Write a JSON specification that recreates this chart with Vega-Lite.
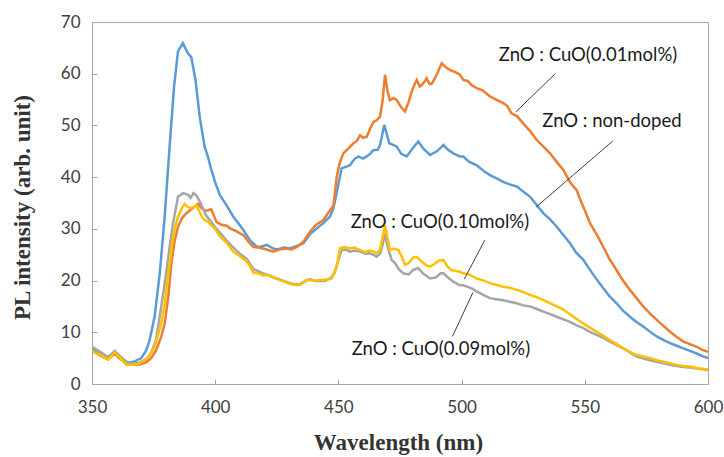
{
  "$schema": "https://vega.github.io/schema/vega-lite/v6.json",
  "width": 616,
  "height": 362,
  "autosize": "none",
  "padding": {"left": 92, "top": 22, "right": 16, "bottom": 73},
  "background": "white",
  "config": {
    "view": {"stroke": "#a6a6a6", "strokeWidth": 1},
    "axis": {
      "grid": false,
      "labelFlush": false,
      "domainColor": "#a6a6a6",
      "tickColor": "#a6a6a6",
      "labelFont": "Lato",
      "labelFontSize": 17,
      "labelColor": "#404040",
      "titleFont": "Liberation Serif",
      "titleFontWeight": "bold",
      "titleFontSize": 23,
      "titleColor": "#333333"
    }
  },
  "datasets": {
    "curves": [
      {"s":"non-doped","wl":350,"v":6.8},{"s":"non-doped","wl":353,"v":6.0},{"s":"non-doped","wl":356.5,"v":5.0},{"s":"non-doped","wl":359.2,"v":6.1},{"s":"non-doped","wl":361,"v":5.3},{"s":"non-doped","wl":364.6,"v":4.1},{"s":"non-doped","wl":367,"v":4.3},{"s":"non-doped","wl":370,"v":5.0},{"s":"non-doped","wl":372,"v":6.5},{"s":"non-doped","wl":373.4,"v":8.5},{"s":"non-doped","wl":375.4,"v":13.0},{"s":"non-doped","wl":377.5,"v":21.4},{"s":"non-doped","wl":379.5,"v":32.4},{"s":"non-doped","wl":381.5,"v":45.9},{"s":"non-doped","wl":383.3,"v":57.5},{"s":"non-doped","wl":384.9,"v":64.3},{"s":"non-doped","wl":386.9,"v":65.9},{"s":"non-doped","wl":388,"v":64.8},{"s":"non-doped","wl":389,"v":63.9},{"s":"non-doped","wl":390.3,"v":63.2},{"s":"non-doped","wl":392,"v":58.8},{"s":"non-doped","wl":393.7,"v":51.7},{"s":"non-doped","wl":395.7,"v":45.9},{"s":"non-doped","wl":397,"v":44.0},{"s":"non-doped","wl":398.4,"v":41.5},{"s":"non-doped","wl":400,"v":39.0},{"s":"non-doped","wl":401.9,"v":36.5},{"s":"non-doped","wl":404.7,"v":34.5},{"s":"non-doped","wl":407.3,"v":32.4},{"s":"non-doped","wl":408.7,"v":31.5},{"s":"non-doped","wl":411.4,"v":29.8},{"s":"non-doped","wl":414.1,"v":27.8},{"s":"non-doped","wl":416.8,"v":26.6},{"s":"non-doped","wl":418.2,"v":26.5},{"s":"non-doped","wl":420.9,"v":26.9},{"s":"non-doped","wl":423.6,"v":26.2},{"s":"non-doped","wl":425,"v":26.0},{"s":"non-doped","wl":428,"v":26.4},{"s":"non-doped","wl":430.4,"v":26.2},{"s":"non-doped","wl":433.1,"v":26.7},{"s":"non-doped","wl":435.8,"v":27.2},{"s":"non-doped","wl":438.5,"v":29.0},{"s":"non-doped","wl":441,"v":30.0},{"s":"non-doped","wl":443.9,"v":31.1},{"s":"non-doped","wl":446.6,"v":32.4},{"s":"non-doped","wl":448,"v":34.0},{"s":"non-doped","wl":449.3,"v":37.0},{"s":"non-doped","wl":451.3,"v":41.7},{"s":"non-doped","wl":453,"v":42.0},{"s":"non-doped","wl":454.7,"v":42.3},{"s":"non-doped","wl":456.5,"v":43.5},{"s":"non-doped","wl":458.1,"v":44.0},{"s":"non-doped","wl":460,"v":43.6},{"s":"non-doped","wl":461.5,"v":44.0},{"s":"non-doped","wl":463,"v":44.6},{"s":"non-doped","wl":464.2,"v":45.2},{"s":"non-doped","wl":466,"v":45.3},{"s":"non-doped","wl":466.9,"v":46.2},{"s":"non-doped","wl":468.6,"v":50.1},{"s":"non-doped","wl":469.8,"v":48.0},{"s":"non-doped","wl":470.7,"v":46.5},{"s":"non-doped","wl":472,"v":46.3},{"s":"non-doped","wl":473.7,"v":45.9},{"s":"non-doped","wl":475.5,"v":44.5},{"s":"non-doped","wl":477.7,"v":44.0},{"s":"non-doped","wl":480,"v":45.5},{"s":"non-doped","wl":482.4,"v":46.9},{"s":"non-doped","wl":484.5,"v":45.5},{"s":"non-doped","wl":487.2,"v":44.3},{"s":"non-doped","wl":490,"v":45.0},{"s":"non-doped","wl":492.6,"v":46.2},{"s":"non-doped","wl":494.5,"v":45.3},{"s":"non-doped","wl":496.6,"v":44.6},{"s":"non-doped","wl":499.3,"v":44.0},{"s":"non-doped","wl":500.7,"v":44.0},{"s":"non-doped","wl":503,"v":43.0},{"s":"non-doped","wl":506.1,"v":42.3},{"s":"non-doped","wl":509,"v":41.2},{"s":"non-doped","wl":511.5,"v":40.4},{"s":"non-doped","wl":514,"v":39.8},{"s":"non-doped","wl":516.9,"v":39.1},{"s":"non-doped","wl":519.5,"v":38.6},{"s":"non-doped","wl":522.4,"v":38.2},{"s":"non-doped","wl":525,"v":37.2},{"s":"non-doped","wl":527.8,"v":36.2},{"s":"non-doped","wl":530.5,"v":34.6},{"s":"non-doped","wl":533.2,"v":33.0},{"s":"non-doped","wl":536,"v":31.8},{"s":"non-doped","wl":538.6,"v":30.4},{"s":"non-doped","wl":541.3,"v":28.8},{"s":"non-doped","wl":544,"v":27.2},{"s":"non-doped","wl":546.5,"v":25.4},{"s":"non-doped","wl":549.4,"v":24.0},{"s":"non-doped","wl":551.5,"v":22.5},{"s":"non-doped","wl":553.5,"v":21.1},{"s":"non-doped","wl":557.5,"v":18.5},{"s":"non-doped","wl":560,"v":17.0},{"s":"non-doped","wl":562.9,"v":15.6},{"s":"non-doped","wl":565.5,"v":14.2},{"s":"non-doped","wl":568.3,"v":13.0},{"s":"non-doped","wl":571,"v":12.0},{"s":"non-doped","wl":573.7,"v":11.1},{"s":"non-doped","wl":576.5,"v":10.1},{"s":"non-doped","wl":579.2,"v":9.2},{"s":"non-doped","wl":582,"v":8.5},{"s":"non-doped","wl":584.6,"v":7.9},{"s":"non-doped","wl":587.3,"v":7.4},{"s":"non-doped","wl":590,"v":6.9},{"s":"non-doped","wl":592.7,"v":6.4},{"s":"non-doped","wl":595.4,"v":5.9},{"s":"non-doped","wl":597.7,"v":5.4},{"s":"non-doped","wl":600,"v":5.0},

      {"s":"0.01","wl":350,"v":6.4},{"s":"0.01","wl":353,"v":5.6},{"s":"0.01","wl":356.5,"v":4.8},{"s":"0.01","wl":359.2,"v":5.9},{"s":"0.01","wl":361,"v":5.0},{"s":"0.01","wl":364.6,"v":3.8},{"s":"0.01","wl":368.7,"v":3.7},{"s":"0.01","wl":372,"v":4.2},{"s":"0.01","wl":374,"v":5.0},{"s":"0.01","wl":376,"v":6.5},{"s":"0.01","wl":378,"v":9.0},{"s":"0.01","wl":379.5,"v":11.7},{"s":"0.01","wl":381,"v":17.0},{"s":"0.01","wl":382.2,"v":23.3},{"s":"0.01","wl":383.5,"v":27.5},{"s":"0.01","wl":384.9,"v":30.4},{"s":"0.01","wl":386.5,"v":32.0},{"s":"0.01","wl":387.6,"v":32.7},{"s":"0.01","wl":389.5,"v":33.5},{"s":"0.01","wl":391.7,"v":34.3},{"s":"0.01","wl":393,"v":34.8},{"s":"0.01","wl":394.4,"v":34.0},{"s":"0.01","wl":396,"v":33.5},{"s":"0.01","wl":397.1,"v":33.6},{"s":"0.01","wl":398.4,"v":33.8},{"s":"0.01","wl":399.5,"v":32.5},{"s":"0.01","wl":400.6,"v":31.3},{"s":"0.01","wl":402.5,"v":30.8},{"s":"0.01","wl":404.7,"v":30.6},{"s":"0.01","wl":406,"v":30.1},{"s":"0.01","wl":408.7,"v":29.5},{"s":"0.01","wl":410.1,"v":29.1},{"s":"0.01","wl":411.4,"v":28.8},{"s":"0.01","wl":413.5,"v":27.5},{"s":"0.01","wl":415.5,"v":26.5},{"s":"0.01","wl":417.5,"v":26.4},{"s":"0.01","wl":419.5,"v":26.2},{"s":"0.01","wl":421.5,"v":25.9},{"s":"0.01","wl":423.6,"v":25.6},{"s":"0.01","wl":426,"v":26.0},{"s":"0.01","wl":429,"v":26.2},{"s":"0.01","wl":431,"v":26.0},{"s":"0.01","wl":433.1,"v":26.5},{"s":"0.01","wl":435.8,"v":27.5},{"s":"0.01","wl":438.5,"v":29.5},{"s":"0.01","wl":441,"v":30.8},{"s":"0.01","wl":443.9,"v":31.7},{"s":"0.01","wl":446.6,"v":33.6},{"s":"0.01","wl":448,"v":34.5},{"s":"0.01","wl":449.3,"v":40.0},{"s":"0.01","wl":450.5,"v":42.7},{"s":"0.01","wl":452,"v":44.6},{"s":"0.01","wl":454,"v":45.5},{"s":"0.01","wl":456,"v":46.5},{"s":"0.01","wl":457.5,"v":47.0},{"s":"0.01","wl":458.8,"v":48.1},{"s":"0.01","wl":460,"v":47.6},{"s":"0.01","wl":461.5,"v":47.8},{"s":"0.01","wl":463,"v":49.5},{"s":"0.01","wl":464.2,"v":50.7},{"s":"0.01","wl":465.5,"v":51.0},{"s":"0.01","wl":466.9,"v":51.7},{"s":"0.01","wl":468,"v":55.0},{"s":"0.01","wl":468.9,"v":59.8},{"s":"0.01","wl":470,"v":56.5},{"s":"0.01","wl":470.9,"v":54.9},{"s":"0.01","wl":472.5,"v":55.3},{"s":"0.01","wl":473.7,"v":54.9},{"s":"0.01","wl":475.5,"v":53.5},{"s":"0.01","wl":477,"v":52.7},{"s":"0.01","wl":478.5,"v":54.5},{"s":"0.01","wl":479.7,"v":56.5},{"s":"0.01","wl":481,"v":58.0},{"s":"0.01","wl":481.8,"v":58.8},{"s":"0.01","wl":483,"v":57.5},{"s":"0.01","wl":483.8,"v":57.8},{"s":"0.01","wl":485,"v":58.5},{"s":"0.01","wl":485.8,"v":59.1},{"s":"0.01","wl":487,"v":58.0},{"s":"0.01","wl":487.9,"v":58.1},{"s":"0.01","wl":489,"v":59.0},{"s":"0.01","wl":489.9,"v":59.8},{"s":"0.01","wl":491,"v":61.0},{"s":"0.01","wl":491.9,"v":62.0},{"s":"0.01","wl":493.5,"v":61.3},{"s":"0.01","wl":495.3,"v":60.7},{"s":"0.01","wl":497.5,"v":60.3},{"s":"0.01","wl":499.3,"v":59.8},{"s":"0.01","wl":500.7,"v":58.8},{"s":"0.01","wl":502.5,"v":58.6},{"s":"0.01","wl":504,"v":57.8},{"s":"0.01","wl":506.1,"v":57.2},{"s":"0.01","wl":508.5,"v":56.8},{"s":"0.01","wl":511.5,"v":55.6},{"s":"0.01","wl":514,"v":55.0},{"s":"0.01","wl":516.9,"v":54.3},{"s":"0.01","wl":518.5,"v":53.8},{"s":"0.01","wl":520.3,"v":52.3},{"s":"0.01","wl":522.5,"v":51.8},{"s":"0.01","wl":525,"v":50.4},{"s":"0.01","wl":528,"v":48.8},{"s":"0.01","wl":530.5,"v":47.2},{"s":"0.01","wl":533,"v":46.0},{"s":"0.01","wl":535.9,"v":44.6},{"s":"0.01","wl":538.5,"v":43.0},{"s":"0.01","wl":541.3,"v":41.4},{"s":"0.01","wl":544,"v":39.0},{"s":"0.01","wl":546.7,"v":37.5},{"s":"0.01","wl":548,"v":35.8},{"s":"0.01","wl":550,"v":33.6},{"s":"0.01","wl":552.1,"v":31.1},{"s":"0.01","wl":555,"v":28.8},{"s":"0.01","wl":557.5,"v":26.5},{"s":"0.01","wl":560,"v":24.2},{"s":"0.01","wl":562.9,"v":22.0},{"s":"0.01","wl":565.5,"v":20.0},{"s":"0.01","wl":568.3,"v":18.2},{"s":"0.01","wl":571,"v":16.6},{"s":"0.01","wl":573.7,"v":15.0},{"s":"0.01","wl":576.5,"v":13.6},{"s":"0.01","wl":579.2,"v":12.4},{"s":"0.01","wl":582,"v":11.2},{"s":"0.01","wl":584.6,"v":10.1},{"s":"0.01","wl":587.3,"v":9.1},{"s":"0.01","wl":590,"v":8.2},{"s":"0.01","wl":592.7,"v":7.7},{"s":"0.01","wl":595.4,"v":7.2},{"s":"0.01","wl":597.7,"v":6.6},{"s":"0.01","wl":600,"v":6.2},

      {"s":"0.09","wl":350,"v":7.2},{"s":"0.09","wl":353,"v":6.3},{"s":"0.09","wl":356.5,"v":5.2},{"s":"0.09","wl":359.2,"v":6.4},{"s":"0.09","wl":361,"v":5.6},{"s":"0.09","wl":364.6,"v":4.0},{"s":"0.09","wl":368.7,"v":4.0},{"s":"0.09","wl":372,"v":4.8},{"s":"0.09","wl":374,"v":6.0},{"s":"0.09","wl":376,"v":8.5},{"s":"0.09","wl":378.1,"v":15.0},{"s":"0.09","wl":380,"v":21.0},{"s":"0.09","wl":381.5,"v":26.5},{"s":"0.09","wl":382.9,"v":31.1},{"s":"0.09","wl":384.9,"v":36.2},{"s":"0.09","wl":387,"v":36.9},{"s":"0.09","wl":389,"v":36.6},{"s":"0.09","wl":390,"v":36.0},{"s":"0.09","wl":391.2,"v":36.9},{"s":"0.09","wl":392.3,"v":36.5},{"s":"0.09","wl":393.4,"v":35.6},{"s":"0.09","wl":395,"v":34.0},{"s":"0.09","wl":396.1,"v":32.7},{"s":"0.09","wl":398,"v":31.6},{"s":"0.09","wl":399.8,"v":30.4},{"s":"0.09","wl":401.9,"v":29.3},{"s":"0.09","wl":404.7,"v":27.7},{"s":"0.09","wl":406.5,"v":26.8},{"s":"0.09","wl":408.7,"v":25.8},{"s":"0.09","wl":410.5,"v":25.0},{"s":"0.09","wl":412.8,"v":24.2},{"s":"0.09","wl":415.5,"v":22.2},{"s":"0.09","wl":417.5,"v":21.8},{"s":"0.09","wl":419.5,"v":21.4},{"s":"0.09","wl":422,"v":21.0},{"s":"0.09","wl":425,"v":20.4},{"s":"0.09","wl":428,"v":19.9},{"s":"0.09","wl":430.4,"v":19.5},{"s":"0.09","wl":432.5,"v":19.3},{"s":"0.09","wl":434.4,"v":19.3},{"s":"0.09","wl":436.5,"v":19.9},{"s":"0.09","wl":438.5,"v":20.3},{"s":"0.09","wl":440.5,"v":19.9},{"s":"0.09","wl":442.5,"v":19.9},{"s":"0.09","wl":444.5,"v":19.9},{"s":"0.09","wl":446.6,"v":20.4},{"s":"0.09","wl":448.5,"v":21.5},{"s":"0.09","wl":450,"v":24.0},{"s":"0.09","wl":451.3,"v":25.9},{"s":"0.09","wl":453,"v":26.0},{"s":"0.09","wl":454.7,"v":25.6},{"s":"0.09","wl":456.5,"v":25.8},{"s":"0.09","wl":458.8,"v":25.6},{"s":"0.09","wl":461,"v":25.2},{"s":"0.09","wl":462.5,"v":25.3},{"s":"0.09","wl":464.2,"v":25.0},{"s":"0.09","wl":465.5,"v":24.6},{"s":"0.09","wl":466.9,"v":25.2},{"s":"0.09","wl":468,"v":27.0},{"s":"0.09","wl":468.9,"v":29.1},{"s":"0.09","wl":470,"v":26.5},{"s":"0.09","wl":471.6,"v":24.0},{"s":"0.09","wl":473,"v":23.4},{"s":"0.09","wl":474.5,"v":22.2},{"s":"0.09","wl":476.3,"v":21.4},{"s":"0.09","wl":478.5,"v":21.2},{"s":"0.09","wl":480.5,"v":22.1},{"s":"0.09","wl":482.4,"v":22.4},{"s":"0.09","wl":484.5,"v":21.3},{"s":"0.09","wl":487.2,"v":20.4},{"s":"0.09","wl":489.5,"v":20.6},{"s":"0.09","wl":491.5,"v":21.4},{"s":"0.09","wl":492.6,"v":21.4},{"s":"0.09","wl":494.5,"v":20.6},{"s":"0.09","wl":496.6,"v":19.8},{"s":"0.09","wl":499.3,"v":19.1},{"s":"0.09","wl":500.7,"v":19.1},{"s":"0.09","wl":503,"v":18.7},{"s":"0.09","wl":504.5,"v":18.4},{"s":"0.09","wl":506.1,"v":17.9},{"s":"0.09","wl":509,"v":17.2},{"s":"0.09","wl":511.5,"v":16.6},{"s":"0.09","wl":514,"v":16.4},{"s":"0.09","wl":516.9,"v":16.2},{"s":"0.09","wl":519.5,"v":15.9},{"s":"0.09","wl":522.4,"v":15.6},{"s":"0.09","wl":525,"v":15.2},{"s":"0.09","wl":527.8,"v":15.0},{"s":"0.09","wl":530.5,"v":14.5},{"s":"0.09","wl":533.2,"v":14.0},{"s":"0.09","wl":536,"v":13.5},{"s":"0.09","wl":538.6,"v":13.0},{"s":"0.09","wl":541.3,"v":12.5},{"s":"0.09","wl":544,"v":12.0},{"s":"0.09","wl":546.5,"v":11.4},{"s":"0.09","wl":549.4,"v":10.8},{"s":"0.09","wl":552,"v":10.1},{"s":"0.09","wl":554.8,"v":9.5},{"s":"0.09","wl":557.5,"v":8.9},{"s":"0.09","wl":560.2,"v":8.2},{"s":"0.09","wl":563,"v":7.5},{"s":"0.09","wl":565.6,"v":6.9},{"s":"0.09","wl":568.3,"v":6.1},{"s":"0.09","wl":571.1,"v":5.3},{"s":"0.09","wl":573.8,"v":4.9},{"s":"0.09","wl":576.5,"v":4.6},{"s":"0.09","wl":579.2,"v":4.3},{"s":"0.09","wl":581.9,"v":4.0},{"s":"0.09","wl":584.6,"v":3.7},{"s":"0.09","wl":587.3,"v":3.5},{"s":"0.09","wl":590,"v":3.3},{"s":"0.09","wl":592.7,"v":3.2},{"s":"0.09","wl":595.4,"v":3.0},{"s":"0.09","wl":600,"v":2.7},

      {"s":"0.10","wl":350,"v":6.4},{"s":"0.10","wl":353,"v":5.7},{"s":"0.10","wl":356.5,"v":4.7},{"s":"0.10","wl":359.2,"v":6.1},{"s":"0.10","wl":361,"v":5.3},{"s":"0.10","wl":364,"v":3.7},{"s":"0.10","wl":368.7,"v":3.8},{"s":"0.10","wl":372.7,"v":5.0},{"s":"0.10","wl":375.4,"v":7.2},{"s":"0.10","wl":378.1,"v":11.7},{"s":"0.10","wl":379.5,"v":15.5},{"s":"0.10","wl":380.8,"v":20.7},{"s":"0.10","wl":382,"v":25.0},{"s":"0.10","wl":382.9,"v":28.5},{"s":"0.10","wl":384,"v":30.8},{"s":"0.10","wl":384.9,"v":32.4},{"s":"0.10","wl":386.5,"v":34.0},{"s":"0.10","wl":387.6,"v":34.8},{"s":"0.10","wl":389,"v":34.2},{"s":"0.10","wl":390.3,"v":34.0},{"s":"0.10","wl":391.5,"v":34.3},{"s":"0.10","wl":392.3,"v":34.6},{"s":"0.10","wl":393.5,"v":33.4},{"s":"0.10","wl":395,"v":32.0},{"s":"0.10","wl":396.2,"v":31.6},{"s":"0.10","wl":397.1,"v":31.4},{"s":"0.10","wl":398.5,"v":30.6},{"s":"0.10","wl":399.8,"v":30.1},{"s":"0.10","wl":401.9,"v":28.6},{"s":"0.10","wl":404.7,"v":27.3},{"s":"0.10","wl":407.3,"v":25.6},{"s":"0.10","wl":409.5,"v":24.9},{"s":"0.10","wl":412.8,"v":23.7},{"s":"0.10","wl":414.5,"v":22.5},{"s":"0.10","wl":415.5,"v":21.5},{"s":"0.10","wl":417.5,"v":21.4},{"s":"0.10","wl":419.5,"v":21.0},{"s":"0.10","wl":420.9,"v":21.1},{"s":"0.10","wl":423.5,"v":20.6},{"s":"0.10","wl":426.3,"v":20.1},{"s":"0.10","wl":428.5,"v":19.7},{"s":"0.10","wl":431,"v":19.3},{"s":"0.10","wl":433.1,"v":19.1},{"s":"0.10","wl":435,"v":19.3},{"s":"0.10","wl":436.8,"v":20.0},{"s":"0.10","wl":438.5,"v":20.1},{"s":"0.10","wl":440.5,"v":19.9},{"s":"0.10","wl":442.5,"v":20.1},{"s":"0.10","wl":445,"v":20.2},{"s":"0.10","wl":447.3,"v":20.4},{"s":"0.10","wl":449.3,"v":22.7},{"s":"0.10","wl":450.6,"v":26.2},{"s":"0.10","wl":452.5,"v":26.5},{"s":"0.10","wl":454.7,"v":26.2},{"s":"0.10","wl":456.5,"v":26.4},{"s":"0.10","wl":458.8,"v":25.9},{"s":"0.10","wl":461,"v":25.5},{"s":"0.10","wl":462.5,"v":25.8},{"s":"0.10","wl":464.2,"v":25.6},{"s":"0.10","wl":465.5,"v":25.3},{"s":"0.10","wl":466.9,"v":25.9},{"s":"0.10","wl":468,"v":28.5},{"s":"0.10","wl":468.9,"v":30.7},{"s":"0.10","wl":470,"v":28.0},{"s":"0.10","wl":470.9,"v":25.9},{"s":"0.10","wl":472.5,"v":26.2},{"s":"0.10","wl":474.3,"v":25.9},{"s":"0.10","wl":475.8,"v":24.6},{"s":"0.10","wl":477,"v":23.0},{"s":"0.10","wl":478.5,"v":23.4},{"s":"0.10","wl":480.5,"v":24.5},{"s":"0.10","wl":481.8,"v":24.6},{"s":"0.10","wl":483.5,"v":23.8},{"s":"0.10","wl":485.5,"v":23.0},{"s":"0.10","wl":487.2,"v":22.7},{"s":"0.10","wl":489,"v":23.2},{"s":"0.10","wl":490.5,"v":23.8},{"s":"0.10","wl":492.6,"v":24.0},{"s":"0.10","wl":494.3,"v":22.7},{"s":"0.10","wl":496,"v":22.0},{"s":"0.10","wl":497.5,"v":21.9},{"s":"0.10","wl":499.3,"v":21.7},{"s":"0.10","wl":500.7,"v":21.4},{"s":"0.10","wl":503,"v":21.2},{"s":"0.10","wl":504.5,"v":20.8},{"s":"0.10","wl":506.1,"v":20.4},{"s":"0.10","wl":509,"v":20.0},{"s":"0.10","wl":511.5,"v":19.5},{"s":"0.10","wl":514,"v":19.2},{"s":"0.10","wl":516.9,"v":18.8},{"s":"0.10","wl":519.5,"v":18.6},{"s":"0.10","wl":522.4,"v":18.2},{"s":"0.10","wl":525,"v":17.8},{"s":"0.10","wl":527.8,"v":17.2},{"s":"0.10","wl":530.5,"v":16.8},{"s":"0.10","wl":533.2,"v":16.2},{"s":"0.10","wl":536,"v":15.6},{"s":"0.10","wl":538.6,"v":15.0},{"s":"0.10","wl":541.3,"v":14.4},{"s":"0.10","wl":544,"v":13.5},{"s":"0.10","wl":546.5,"v":12.6},{"s":"0.10","wl":549.4,"v":11.7},{"s":"0.10","wl":552,"v":10.9},{"s":"0.10","wl":554.8,"v":10.1},{"s":"0.10","wl":557.5,"v":9.3},{"s":"0.10","wl":560.2,"v":8.5},{"s":"0.10","wl":563,"v":7.7},{"s":"0.10","wl":565.6,"v":6.9},{"s":"0.10","wl":568.3,"v":6.2},{"s":"0.10","wl":571.1,"v":5.6},{"s":"0.10","wl":573.8,"v":5.3},{"s":"0.10","wl":576.5,"v":5.0},{"s":"0.10","wl":579.2,"v":4.6},{"s":"0.10","wl":581.9,"v":4.3},{"s":"0.10","wl":584.6,"v":4.0},{"s":"0.10","wl":587.3,"v":3.7},{"s":"0.10","wl":590,"v":3.5},{"s":"0.10","wl":592.7,"v":3.4},{"s":"0.10","wl":595.4,"v":3.1},{"s":"0.10","wl":600,"v":2.8}
    ],
    "leaders": [
      {"x": 538, "y": 60.0, "x2": 522, "y2": 52.6},
      {"x": 561.4, "y": 47.0, "x2": 530.2, "y2": 34.2},
      {"x": 509.4, "y": 27.8, "x2": 501.1, "y2": 20.3},
      {"x": 496.3, "y": 9.2, "x2": 504.6, "y2": 17.7}
    ],
    "labels": [
      {"x": 551.3, "y": 63.6, "label": "ZnO : CuO(0.01mol%)"},
      {"x": 561.0, "y": 50.9, "label": "ZnO : non-doped"},
      {"x": 491.2, "y": 31.3, "label": "ZnO : CuO(0.10mol%)"},
      {"x": 491.6, "y": 6.8, "label": "ZnO : CuO(0.09mol%)"}
    ]
  },
  "layer": [
    {
      "data": {"name": "curves"},
      "mark": {"type": "line", "strokeWidth": 2.5, "clip": true},
      "encoding": {
        "x": {
          "field": "wl", "type": "quantitative",
          "scale": {"domain": [350, 600], "nice": false, "zero": false},
          "axis": {
            "title": "Wavelength (nm)",
            "values": [350, 400, 450, 500, 550, 600],
            "tickSize": -5,
            "labelPadding": 20,
            "titleX": 306, "titleY": 58, "titleBaseline": "middle", "titleAnchor": null
          }
        },
        "y": {
          "field": "v", "type": "quantitative",
          "scale": {"domain": [0, 70], "nice": false},
          "axis": {
            "title": "PL intensity (arb. unit)",
            "values": [0, 10, 20, 30, 40, 50, 60, 70],
            "tickSize": -5,
            "labelPadding": 17,
            "titleX": -70, "titleY": 185, "titleBaseline": "middle"
          }
        },
        "color": {
          "field": "s", "type": "nominal",
          "scale": {"domain": ["non-doped", "0.01", "0.09", "0.10"], "range": ["#5B9BD5", "#ED7D31", "#A5A5A5", "#FFC000"]},
          "legend": null
        }
      }
    },
    {
      "data": {"name": "leaders"},
      "mark": {"type": "rule", "color": "#404040", "strokeWidth": 1},
      "encoding": {
        "x": {"field": "x", "type": "quantitative"},
        "y": {"field": "y", "type": "quantitative"},
        "x2": {"field": "x2"},
        "y2": {"field": "y2"}
      }
    },
    {
      "data": {"name": "labels"},
      "mark": {"type": "text", "font": "Lato", "fontSize": 18.5, "color": "#1a1a1a", "align": "center", "baseline": "middle"},
      "encoding": {
        "x": {"field": "x", "type": "quantitative"},
        "y": {"field": "y", "type": "quantitative"},
        "text": {"field": "label"}
      }
    }
  ]
}
